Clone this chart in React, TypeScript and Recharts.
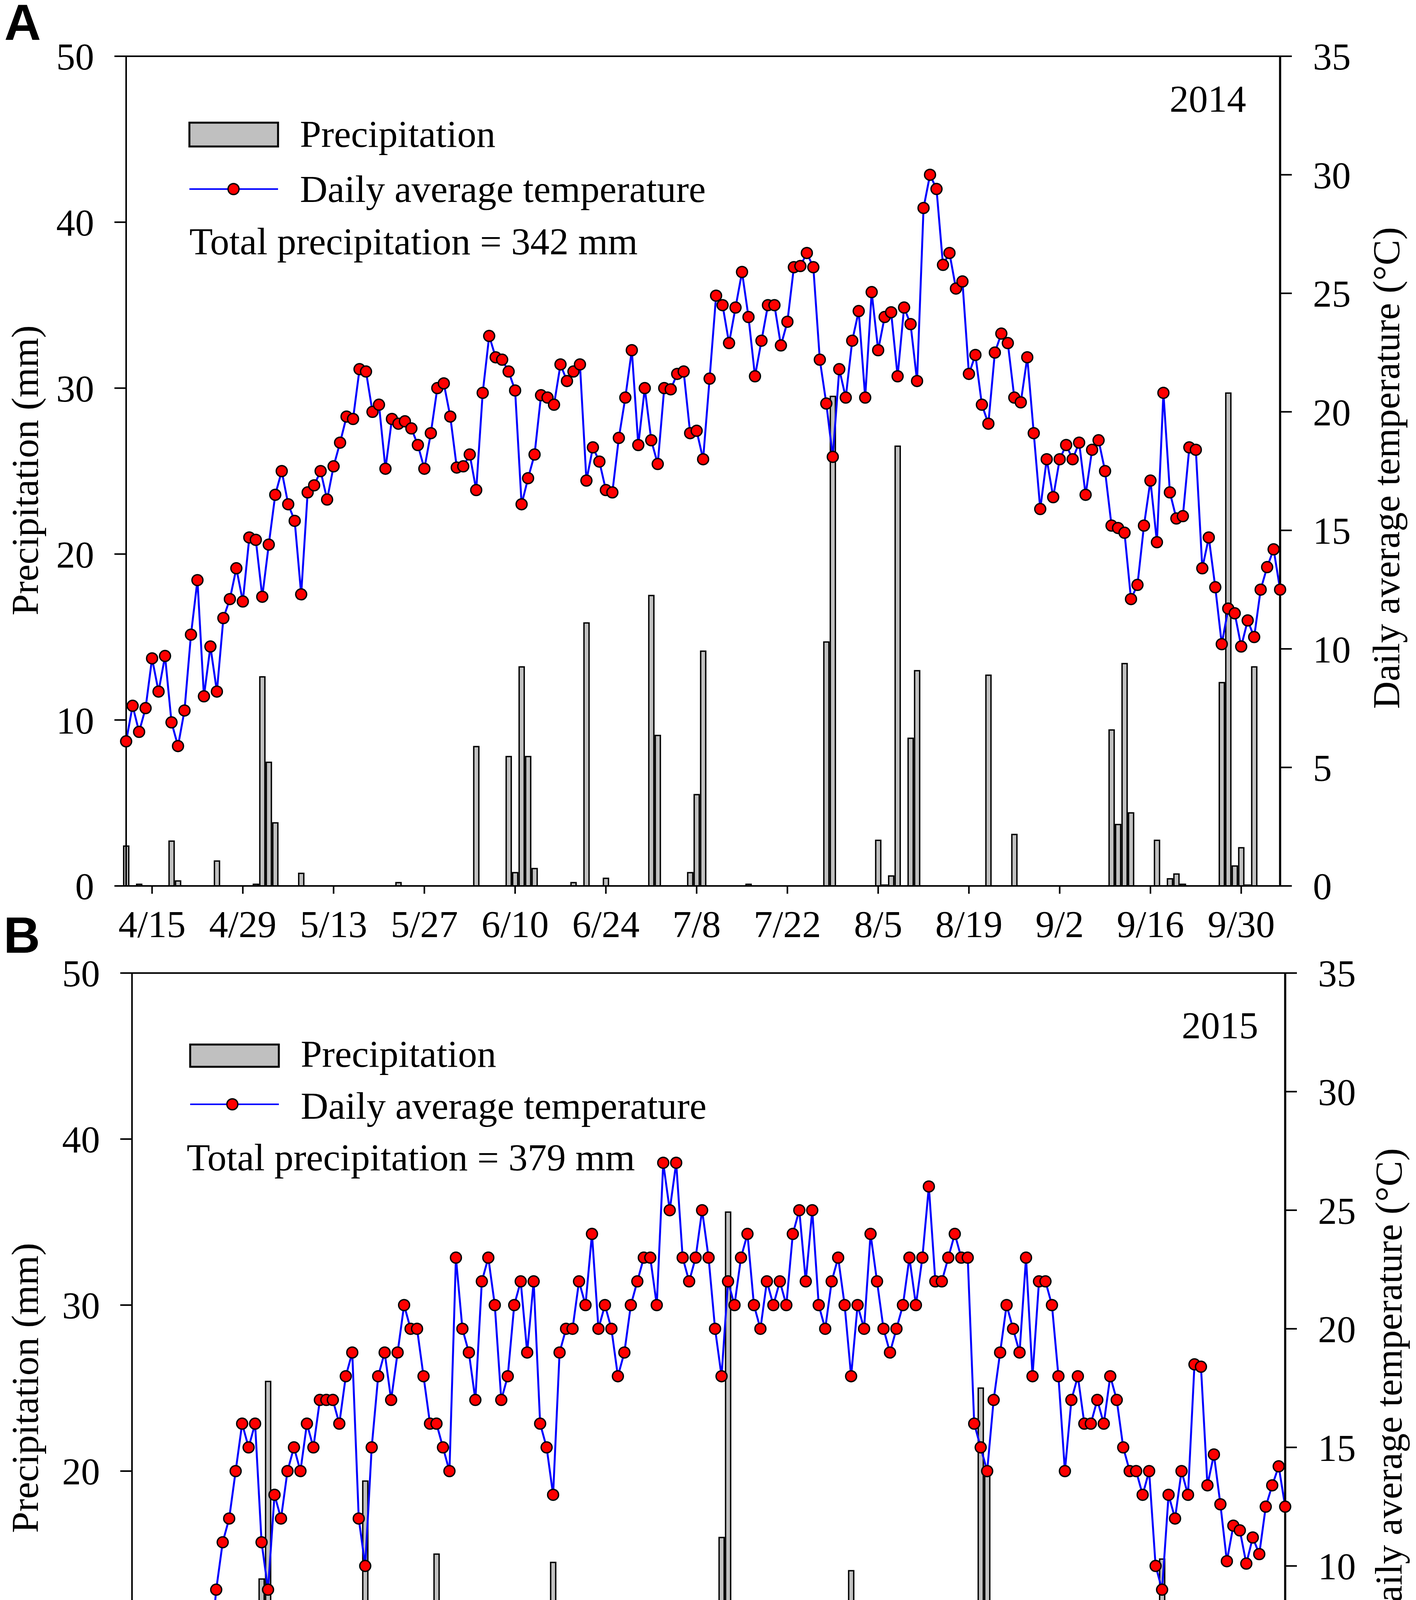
import React from 'react';
import {
  ComposedChart,
  Bar,
  Line,
  XAxis,
  YAxis,
  ReferenceLine,
} from 'recharts';

// day 0 = 4/11, day 178 = 10/6
const tempsA = [
  6.1, 7.6, 6.5, 7.5, 9.6, 8.2, 9.7, 6.9, 5.9, 7.4,
  10.6, 12.9, 8.0, 10.1, 8.2, 11.3, 12.1, 13.4, 12.0, 14.7,
  14.6, 12.2, 14.4, 16.5, 17.5, 16.1, 15.4, 12.3, 16.6, 16.9,
  17.5, 16.3, 17.7, 18.7, 19.8, 19.7, 21.8, 21.7, 20.0, 20.3,
  17.6, 19.7, 19.5, 19.6, 19.3, 18.6, 17.6, 19.1, 21.0, 21.2,
  19.8, 17.65, 17.7, 18.2, 16.7, 20.8, 23.2, 22.3, 22.2, 21.7,
  20.9, 16.1, 17.2, 18.2, 20.7, 20.6, 20.3, 22.0, 21.3, 21.7,
  22.0, 17.1, 18.5, 17.9, 16.7, 16.6, 18.9, 20.6, 22.6, 18.6,
  21.0, 18.8, 17.8, 21.0, 20.95, 21.6, 21.7, 19.1, 19.2, 18.0,
  21.4, 24.9, 24.5, 22.9, 24.4, 25.9, 24.0, 21.5, 23.0, 24.5,
  24.5, 22.8, 23.8, 26.1, 26.15, 26.7, 26.1, 22.2, 20.35, 18.1,
  21.8, 20.6, 23.0, 24.25, 20.6, 25.05, 22.6, 24.0, 24.2, 21.5,
  24.4, 23.7, 21.3, 28.6, 30.0, 29.4, 26.2, 26.7, 25.2, 25.5,
  21.6, 22.4, 20.3, 19.5, 22.5, 23.3, 22.9, 20.6, 20.4, 22.3,
  19.1, 15.9, 18.0, 16.4, 18.0, 18.6, 18.0, 18.7, 16.5, 18.4,
  18.8, 17.5, 15.2, 15.1, 14.9, 12.1, 12.7, 15.2, 17.1, 14.5,
  20.8, 16.6, 15.5, 15.6, 18.5, 18.4, 13.4, 14.7, 12.6, 10.2,
  11.7, 11.5, 10.1, 11.2, 10.5, 12.5, 13.45, 14.2, 12.5,
];

const rainDaysA = [
  0, 2, 7, 8, 14, 20, 21, 22, 23, 27, 42, 54, 59, 60, 61, 62, 63, 69, 71, 74,
  81, 82, 87, 88, 89, 96, 108, 109, 116, 117, 118, 119, 121, 122, 133, 137,
  152, 153, 154, 155, 159, 161, 162, 163, 169, 170, 171, 172, 173, 174,
];
const rainAmountsA = [
  2.4, 0.1, 2.7, 0.3, 1.5, 0.1, 12.6, 7.45, 3.8, 0.76, 0.2, 8.4, 7.8, 0.8, 13.2, 7.8, 1.05, 0.2, 15.85, 0.46,
  17.5, 9.07, 0.8, 5.5, 14.15, 0.1, 14.7, 29.5, 2.75, 0.05, 0.6, 26.5, 8.9, 12.97, 12.7, 3.1,
  9.4, 3.7, 13.4, 4.4, 2.75, 0.43, 0.72, 0.1, 12.25, 29.7, 1.2, 2.3, 0.05, 13.2,
];

const tempsB = [
  5, 6, 4.2, 6.8, 6.4, 7, 5, 6, 7, 8,
  7, 8, 6, 9, 11, 12, 14, 16, 15, 16,
  11, 9, 13, 12, 14, 15, 14, 16, 15, 17,
  17, 17, 16, 18, 19, 12, 10, 15, 18, 19,
  17, 19, 21, 20, 20, 18, 16, 16, 15, 14,
  23, 20, 19, 17, 22, 23, 21, 17, 18, 21,
  22, 19, 22, 16, 15, 13, 19, 20, 20, 22,
  21, 24, 20, 21, 20, 18, 19, 21, 22, 23,
  23, 21, 27, 25, 27, 23, 22, 23, 25, 23,
  20, 18, 22, 21, 23, 24, 21, 20, 22, 21,
  22, 21, 24, 25, 22, 25, 21, 20, 22, 23,
  21, 18, 21, 20, 24, 22, 20, 19, 20, 21,
  23, 21, 23, 26, 22, 22, 23, 24, 23, 23,
  16, 15, 14, 17, 19, 21, 20, 19, 23, 18,
  22, 22, 21, 18, 14, 17, 18, 16, 16, 17,
  16, 18, 17, 15, 14, 14, 13, 14, 10, 9,
  13, 12, 14, 13, 18.5, 18.4, 13.4, 14.7, 12.6, 10.2,
  11.7, 11.5, 10.1, 11.2, 10.5, 12.5, 13.4, 14.2, 12.5,
];

const rainDaysB = [
  2, 6, 12, 20, 21, 28, 35, 36, 46, 47, 48, 49, 52, 53, 57, 63, 64, 65, 75, 81,
  91, 92, 111, 112, 117, 130, 131, 132, 144, 145, 158, 159, 160, 161,
];
const rainAmountsB = [
  1.2, 3.5, 5, 13.5, 25.4, 2.4, 7, 19.4, 8, 15, 4, 7, 6, 8, 5, 6, 12, 14.5, 7, 11,
  16, 35.6, 14, 7, 12, 12, 25, 20, 12, 5, 10, 14.7, 9.5, 5.4,
];

const ticksA = [4, 18, 32, 46, 60, 74, 88, 102, 116, 130, 144, 158, 172];
const tickLabelsA = ['4/15', '4/29', '5/13', '5/27', '6/10', '6/24', '7/8', '7/22', '8/5', '8/19', '9/2', '9/16', '9/30'];
const ticksB = [3, 17, 31, 45, 59, 73, 87, 101, 115, 129, 143, 157, 171];
const tickLabelsB = ['4/14', '4/28', '5/12', '5/26', '6/9', '6/23', '7/7', '7/21', '8/4', '8/18', '9/1', '9/15', '9/29'];

const precipTicks = [0, 10, 20, 30, 40, 50];
const tempTicks = [0, 5, 10, 15, 20, 25, 30, 35];

const W = 3626;
const SERIF = '"Liberation Serif", "Times New Roman", serif';
const SANS = '"Liberation Sans", Arial, sans-serif';
const FS = 97;

function buildRows(temps: number[], rainDays: number[], rainAmounts: number[]) {
  return temps.map((t, day) => {
    const idx = rainDays.indexOf(day);
    return { day, temp: t, rain: idx >= 0 ? rainAmounts[idx] : null };
  });
}

interface PanelProps {
  top: number;
  height: number;
  plotTop: number;
  plotBottom: number;
  plotLeft: number;
  plotRight: number;
  labelGap: number;
  temps: number[];
  rainDays: number[];
  rainAmounts: number[];
  ticks: number[];
  tickLabels: string[];
}

function Panel(p: PanelProps) {
  const data = buildRows(p.temps, p.rainDays, p.rainAmounts);
  const tick = { fontSize: FS, fill: '#000', fontFamily: SERIF };
  const line = { stroke: '#000', strokeWidth: 4 };

  return (
    <div style={{ position: 'absolute', left: 0, top: p.top }}>
      <ComposedChart
        width={W}
        height={p.height}
        data={data}
        margin={{ top: p.plotTop, right: 0, left: 0, bottom: 0 }}
      >
        <XAxis
          dataKey="day"
          type="number"
          domain={[0, 178]}
          ticks={p.ticks}
          interval={0}
          tickFormatter={(d: number) => p.tickLabels[p.ticks.indexOf(d)] ?? ''}
          height={p.height - p.plotBottom}
          tickSize={20}
          tickMargin={p.labelGap}
          tick={tick}
          axisLine={line}
          tickLine={line}
        />
        <YAxis
          yAxisId="left"
          domain={[0, 50]}
          ticks={precipTicks}
          interval={0}
          width={p.plotLeft}
          tickSize={30}
          tickMargin={52}
          tick={tick}
          axisLine={line}
          tickLine={line}
        />
        <YAxis
          yAxisId="right"
          orientation="right"
          domain={[0, 35]}
          ticks={tempTicks}
          interval={0}
          width={W - p.plotRight}
          tickSize={30}
          tickMargin={54}
          tick={tick}
          axisLine={{ stroke: '#000', strokeWidth: 5.5 }}
          tickLine={line}
        />
        <ReferenceLine yAxisId="left" y={50} stroke="#000" strokeWidth={4} />
        <Bar
          yAxisId="left"
          dataKey="rain"
          barSize={13}
          fill="#C0C0C0"
          stroke="#000"
          strokeWidth={3.5}
          isAnimationActive={false}
        />
        <Line
          yAxisId="right"
          dataKey="temp"
          type="linear"
          stroke="#0000FF"
          strokeWidth={5}
          dot={{ r: 14, fill: '#FF0000', stroke: '#000', strokeWidth: 3.5 }}
          activeDot={false}
          isAnimationActive={false}
        />
      </ComposedChart>
    </div>
  );
}

function LegendBlock({ x, rectTop, rectH, lineY, dotX, textX, base1, base2, totalX, totalBase, total }: {
  x: number; rectTop: number; rectH: number; lineY: number; dotX: number; textX: number;
  base1: number; base2: number; totalX: number; totalBase: number; total: string;
}) {
  return (
    <g fontFamily={SERIF} fontSize={98} fill="#000">
      <rect x={x} y={rectTop} width={227} height={rectH} fill="#C0C0C0" stroke="#000" strokeWidth={5} />
      <line x1={x} x2={x + 227} y1={lineY} y2={lineY} stroke="#0000FF" strokeWidth={4} />
      <circle cx={dotX} cy={lineY} r={14} fill="#FF0000" stroke="#000" strokeWidth={3.5} />
      <text x={textX} y={base1}>Precipitation</text>
      <text x={textX} y={base2}>Daily average temperature</text>
      <text x={totalX} y={totalBase}>{total}</text>
    </g>
  );
}

export default function App() {
  return (
    <div style={{ position: 'absolute', left: 0, top: 0, width: W, height: 4775, background: '#fff', overflow: 'hidden' }}>
      <Panel
        top={0}
        height={2460}
        plotTop={144}
        plotBottom={2268}
        plotLeft={323}
        plotRight={3278}
        labelGap={42}
        temps={tempsA}
        rainDays={rainDaysA}
        rainAmounts={rainAmountsA}
        ticks={ticksA}
        tickLabels={tickLabelsA}
      />
      <Panel
        top={2460}
        height={2315}
        plotTop={31}
        plotBottom={2156}
        plotLeft={338}
        plotRight={3291}
        labelGap={36}
        temps={tempsB}
        rainDays={rainDaysB}
        rainAmounts={rainAmountsB}
        ticks={ticksB}
        tickLabels={tickLabelsB}
      />
      <svg
        width={W}
        height={4775}
        style={{ position: 'absolute', left: 0, top: 0, pointerEvents: 'none' }}
      >
        <text x={11} y={102} fontFamily={SANS} fontWeight="bold" fontSize={130}>A</text>
        <text x={9} y={2439} fontFamily={SANS} fontWeight="bold" fontSize={130}>B</text>

        <g fontFamily={SERIF} fontSize={98} fill="#000" textAnchor="middle" dominantBaseline="central">
          <text transform="translate(64,1204) rotate(-90)">Precipitation (mm)</text>
          <text transform="translate(64,3553) rotate(-90)">Precipitation (mm)</text>
          <text transform="translate(3550,1198) rotate(-90)">Daily average temperature (°C)</text>
          <text transform="translate(3556,3556) rotate(-90)">Daily average temperature (°C)</text>
        </g>

        <g fontFamily={SERIF} fontSize={98} fill="#000" textAnchor="end">
          <text x={3191} y={286}>2014</text>
          <text x={3222} y={2658}>2015</text>
        </g>

        <LegendBlock
          x={485} rectTop={314} rectH={61} lineY={484} dotX={598} textX={768}
          base1={376} base2={517} totalX={485} totalBase={651}
          total="Total precipitation = 342 mm"
        />
        <LegendBlock
          x={487} rectTop={2674} rectH={57} lineY={2827} dotX={595} textX={770}
          base1={2731} base2={2864} totalX={478} totalBase={2996}
          total="Total precipitation = 379 mm"
        />
      </svg>
    </div>
  );
}
